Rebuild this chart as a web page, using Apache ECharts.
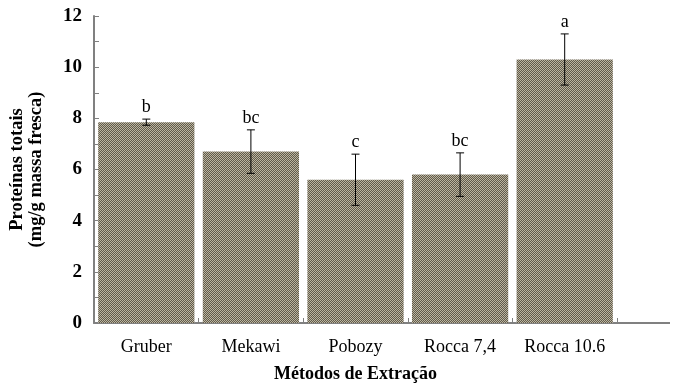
<!DOCTYPE html>
<html>
<head>
<meta charset="utf-8">
<script src="https://cdn.jsdelivr.net/npm/echarts@6/dist/echarts.min.js"></script>
<style>
  html, body { margin: 0; padding: 0; background: #fff; }
  #chart { width: 676px; height: 388px; }
</style>
</head>
<body>
<div id="chart"></div>
<script>
// Extraction methods and total protein (mg/g fresh mass)
const categories = ['Gruber', 'Mekawi', 'Pobozy', 'Rocca 7,4', 'Rocca 10.6'];
const proteinMeans = [7.85, 6.7, 5.6, 5.8, 10.3];
const proteinErrors = [0.12, 0.85, 1.0, 0.85, 1.0];
const groupLetters = ['b', 'bc', 'c', 'bc', 'a'];
const yTicks = [0, 2, 4, 6, 8, 10, 12];

// Fine checkered fill for the bars
function makePattern() {
  const c = document.createElement('canvas');
  c.width = 4; c.height = 4;
  const ctx = c.getContext('2d');
  ctx.fillStyle = '#605a4b';
  ctx.fillRect(0, 0, 4, 4);
  ctx.fillStyle = '#bcb5a0';
  for (let y = 0; y < 4; y++) {
    for (let x = 0; x < 4; x++) {
      if ((x + y) % 2 === 0) ctx.fillRect(x, y, 1, 1);
    }
  }
  return c;
}

const chart = echarts.init(document.getElementById('chart'), null, { renderer: 'canvas' });
const serif = 'Liberation Serif, Times New Roman, serif';
const axisGray = '#808080';

const errorData = categories.map((c, i) => [i, proteinMeans[i], proteinErrors[i]]);

chart.setOption({
  animation: false,
  backgroundColor: '#ffffff',
  grid: { left: 85, right: 59, top: 16, bottom: 58, containLabel: false },
  xAxis: {
    type: 'category',
    data: categories,
    name: 'Métodos de Extração',
    nameLocation: 'middle',
    nameGap: 42,
    nameTextStyle: { fontFamily: serif, fontWeight: 'bold', fontSize: 18, color: '#000' },
    axisLine: { lineStyle: { color: axisGray, width: 2 } },
    axisTick: { show: true, inside: true, length: 5, lineStyle: { color: axisGray, width: 1 } },
    axisLabel: { interval: 0, fontFamily: serif, fontSize: 18, color: '#000', margin: 15 },
    splitLine: { show: false }
  },
  yAxis: {
    type: 'value',
    min: yTicks[0],
    max: yTicks[yTicks.length - 1],
    interval: 2,
    name: 'Proteínas totais\n(mg/g massa fresca)',
    nameLocation: 'middle',
    nameRotate: 90,
    nameGap: 48,
    nameTextStyle: { fontFamily: serif, fontWeight: 'bold', fontSize: 18.5, color: '#000', lineHeight: 19 },
    axisLine: { show: true, lineStyle: { color: axisGray, width: 2 } },
    axisTick: { show: true, inside: true, length: 5, lineStyle: { color: axisGray, width: 1 } },
    minorTick: { show: true, splitNumber: 2, length: 5, lineStyle: { color: axisGray, width: 1 } },
    axisLabel: { fontFamily: serif, fontWeight: 'bold', fontSize: 19, color: '#000', margin: 12 },
    splitLine: { show: false }
  },
  series: [
    {
      type: 'bar',
      data: proteinMeans,
      barCategoryGap: '8%',
      itemStyle: { color: { image: makePattern(), repeat: 'repeat' } },
      silent: true
    },
    {
      type: 'custom',
      data: errorData,
      z: 10,
      silent: true,
      renderItem: function (params, api) {
        const i = api.value(0);
        const m = api.value(1);
        const e = api.value(2);
        const top = api.coord([i, m + e]);
        const bot = api.coord([i, m - e]);
        const cap = 4;
        const stroke = { stroke: '#000', lineWidth: 1 };
        return {
          type: 'group',
          children: [
            { type: 'line', shape: { x1: top[0], y1: top[1], x2: bot[0], y2: bot[1] }, style: stroke },
            { type: 'line', shape: { x1: top[0] - cap, y1: top[1], x2: top[0] + cap, y2: top[1] }, style: stroke },
            { type: 'line', shape: { x1: bot[0] - cap, y1: bot[1], x2: bot[0] + cap, y2: bot[1] }, style: stroke },
            { type: 'text', x: top[0], y: top[1] - 3, style: { text: groupLetters[i], fontFamily: serif, fontSize: 18, fill: '#000', align: 'center', verticalAlign: 'bottom' } }
          ]
        };
      }
    }
  ]
});

// The baseline runs on past the last category to the right edge of the frame
const zeroY = chart.convertToPixel({ yAxisIndex: 0 }, 0);
const gridRect = chart.getModel().getComponent('grid').coordinateSystem.getRect();
chart.setOption({
  graphic: [{
    type: 'line',
    silent: true,
    shape: { x1: gridRect.x + gridRect.width, y1: zeroY, x2: 670, y2: zeroY },
    style: { stroke: axisGray, lineWidth: 2 }
  }]
});
</script>
</body>
</html>
